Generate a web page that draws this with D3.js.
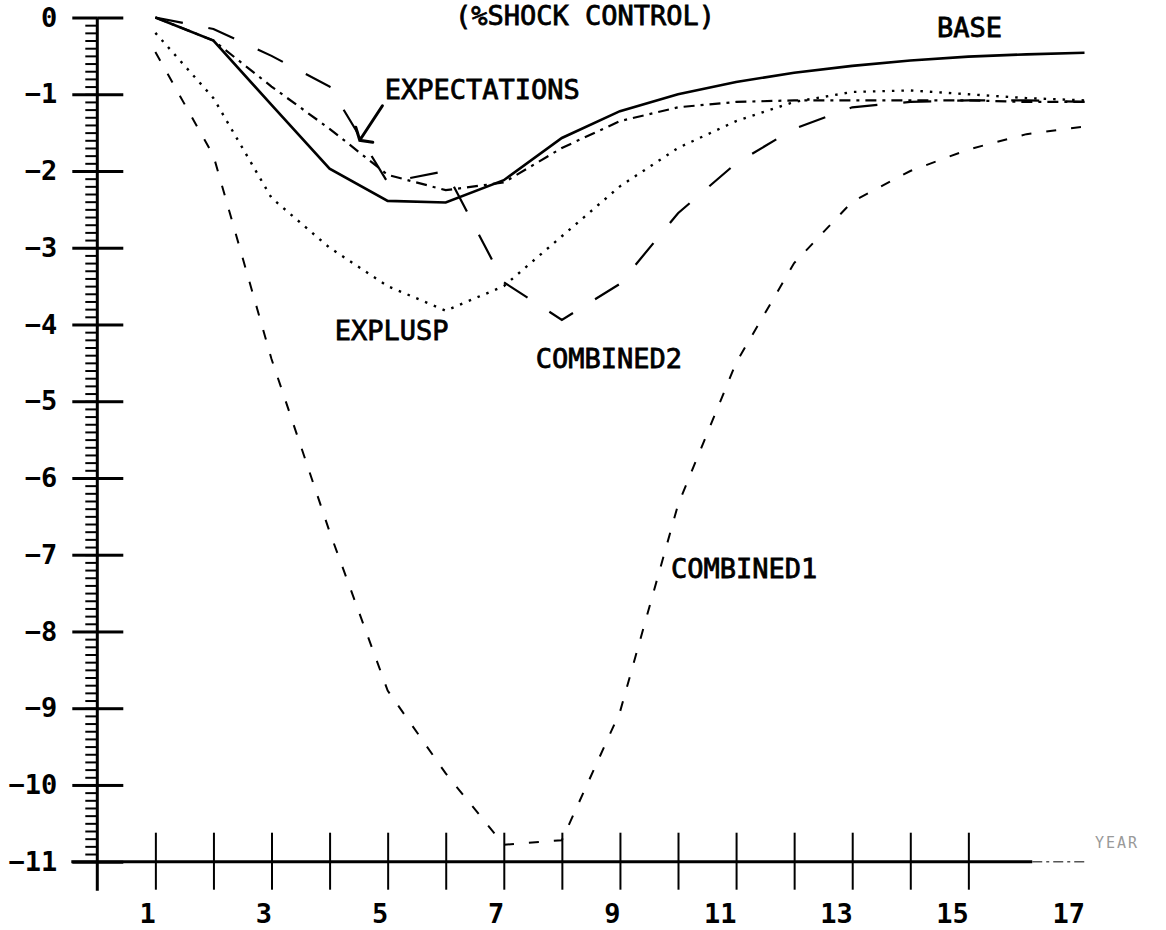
<!DOCTYPE html>
<html>
<head>
<meta charset="utf-8">
<script src="https://cdn.jsdelivr.net/npm/d3@7"></script>
<style>
  body { margin: 0; background: #fff; }
  svg { display: block; }
  .axis text { font-family: "DejaVu Sans Mono", monospace; font-weight: bold; font-size: 27px; fill: #000; }
  .lbl { font-family: "DejaVu Sans Mono", monospace; font-size: 27px; fill: #000; stroke: #000; stroke-width: 0.8px; }
</style>
</head>
<body>
<svg id="chart" width="1166" height="930"></svg>
<script>
// years on the horizontal axis
var years = [1, 2, 3, 4, 5, 6, 7, 8, 9, 10, 11, 12, 13, 14, 15, 16, 17];

// % shock minus control
var base         = [0, -0.3, -1.14, -1.97, -2.39, -2.41, -2.12, -1.57, -1.22, -1.0, -0.84, -0.72, -0.63, -0.56, -0.51, -0.48, -0.46];
var expectations = [0, -0.3, -0.9, -1.45, -2.05, -2.25, -2.15, -1.7, -1.35, -1.17, -1.1, -1.08, -1.08, -1.08, -1.08, -1.1, -1.1];
var explusp      = [-0.2, -1.05, -2.35, -3.0, -3.5, -3.82, -3.5, -2.85, -2.2, -1.7, -1.35, -1.1, -0.97, -0.95, -1.0, -1.05, -1.08];
var combined2    = [0, -0.15, -0.5, -0.9, -2.15, -2.0, -3.45, -3.94, -3.47, -2.55, -1.9, -1.45, -1.17, -1.1, -1.08, -1.08, -1.1];
var combined1    = [-0.45, -1.8, -4.45, -6.7, -8.77, -9.85, -10.78, -10.72, -9.05, -6.35, -4.5, -3.2, -2.4, -2.0, -1.72, -1.52, -1.42];

var yTicks = [0, -1, -2, -3, -4, -5, -6, -7, -8, -9, -10, -11];
var xTicks = [1, 2, 3, 4, 5, 6, 7, 8, 9, 10, 11, 12, 13, 14, 15];
var xTickLabels = [1, 3, 5, 7, 9, 11, 13, 15, 17];

(function() {
  var svg = d3.select("#chart");

  var x = d3.scaleLinear().domain([0, 17]).range([97.3, 1084.5]),
      y = d3.scaleLinear().domain([0, -11]).range([17.5, 861.7]);

  var g = svg.append("g");

  // ---- y axis: minor ticks every 0.1, major ticks crossing the line
  g.append("g")
      .attr("class", "axis")
      .attr("transform", "translate(" + x(0) + ",0)")
      .call(d3.axisLeft(y).tickValues(d3.range(0, -110, -1).map(function(d) { return d / 10; }))
            .tickSize(12).tickSizeOuter(0).tickFormat(""))
      .call(function(a) { a.select(".domain").remove(); })
      .selectAll("line").attr("stroke", "#000").attr("stroke-width", 2);

  g.append("g")
      .attr("class", "axis")
      .attr("transform", "translate(" + x(0) + ",0)")
      .call(d3.axisLeft(y).tickValues(yTicks).tickSize(25).tickPadding(15))
      .call(function(a) { a.select(".domain").remove(); })
      .call(function(a) { a.selectAll("line").attr("stroke", "#000").attr("stroke-width", 3); });

  g.append("g")
      .attr("class", "axis")
      .attr("transform", "translate(" + x(0) + ",0)")
      .call(d3.axisRight(y).tickValues(yTicks).tickSize(26).tickFormat(""))
      .call(function(a) { a.select(".domain").remove(); })
      .selectAll("line").attr("stroke", "#000").attr("stroke-width", 3);

  g.append("line")
      .attr("x1", x(0)).attr("x2", x(0))
      .attr("y1", y(0)).attr("y2", y(-11) + 29)
      .attr("stroke", "#000").attr("stroke-width", 3);

  // ---- x axis
  g.append("g")
      .attr("class", "axis")
      .attr("transform", "translate(0," + y(-11) + ")")
      .call(d3.axisBottom(x).tickValues(xTicks).tickSize(28).tickFormat(""))
      .call(function(a) { a.select(".domain").remove(); })
      .selectAll("line").attr("stroke", "#000").attr("stroke-width", 2);

  g.append("g")
      .attr("class", "axis")
      .attr("transform", "translate(0," + y(-11) + ")")
      .call(d3.axisTop(x).tickValues(xTicks).tickSize(29).tickFormat(""))
      .call(function(a) { a.select(".domain").remove(); })
      .selectAll("line").attr("stroke", "#000").attr("stroke-width", 2);

  g.append("g")
      .attr("class", "axis")
      .attr("transform", "translate(0," + y(-11) + ")")
      .call(d3.axisBottom(x).tickValues(xTickLabels).tickSize(0).tickFormat(d3.format("d")))
      .call(function(a) { a.select(".domain").remove(); })
      .selectAll("text")
        .attr("text-anchor", "end")
        .attr("dy", null)
        .attr("y", 61);

  g.append("line")
      .attr("x1", x(0) - 26).attr("x2", x(16.1))
      .attr("y1", y(-11)).attr("y2", y(-11))
      .attr("stroke", "#000").attr("stroke-width", 3);
  g.append("line")
      .attr("x1", x(16.1)).attr("x2", x(17))
      .attr("y1", y(-11)).attr("y2", y(-11))
      .attr("stroke", "#555").attr("stroke-width", 1.5)
      .attr("stroke-dasharray", "10,4,3,4");

  // ---- series
  var line = d3.line()
      .x(function(d, i) { return x(years[i]); })
      .y(function(d) { return y(d); });

  var series = [
    {v: base,         dash: null,          w: 2.6},
    {v: expectations, dash: "11,6,3,6",    w: 2.2},
    {v: explusp,      dash: "2.5,7",       w: 2.4},
    {v: combined2,    dash: "28,26",       w: 2.2},
    {v: combined1,    dash: "10,15",       w: 2}
  ];

  g.selectAll(".series")
    .data(series)
    .enter().append("path")
      .attr("class", "series")
      .attr("fill", "none")
      .attr("stroke", "#000")
      .attr("stroke-width", function(d) { return d.w; })
      .attr("stroke-dasharray", function(d) { return d.dash; })
      .attr("d", function(d) { return line(d.v); });

  // ---- labels
  svg.append("text").attr("class", "lbl")
      .attr("x", x(6.16)).attr("y", y(-0.1))
      .text("(%SHOCK CONTROL)");

  var labels = [
    {t: "BASE",         x: 14.46, y: -0.25},
    {t: "EXPECTATIONS", x: 4.95,  y: -1.06},
    {t: "EXPLUSP",      x: 4.09,  y: -4.2},
    {t: "COMBINED2",    x: 7.55,  y: -4.57},
    {t: "COMBINED1",    x: 9.88,  y: -7.3}
  ];
  svg.selectAll(".name")
    .data(labels)
    .enter().append("text")
      .attr("class", "lbl name")
      .attr("x", function(d) { return x(d.x); })
      .attr("y", function(d) { return y(d.y); })
      .text(function(d) { return d.t; });

  // arrow from EXPECTATIONS to its curve
  var tip = [x(4.52), y(-1.6)];
  svg.append("path")
      .attr("fill", "none").attr("stroke", "#000").attr("stroke-width", 3)
      .attr("stroke-linecap", "round")
      .attr("d", "M" + x(4.91) + "," + y(-1.15) + "L" + tip[0] + "," + tip[1] +
                 "M" + (tip[0] - 4) + "," + (tip[1] - 13) + "L" + tip[0] + "," + tip[1] +
                 "L" + (tip[0] + 13) + "," + (tip[1] + 2));

  svg.append("text")
      .attr("x", x(17.18)).attr("y", y(-10.82))
      .style("font-family", "DejaVu Sans Mono, monospace")
      .style("font-size", "15px")
      .style("letter-spacing", "2px")
      .attr("fill", "#999")
      .text("YEAR");
})();
</script>
</body>
</html>
